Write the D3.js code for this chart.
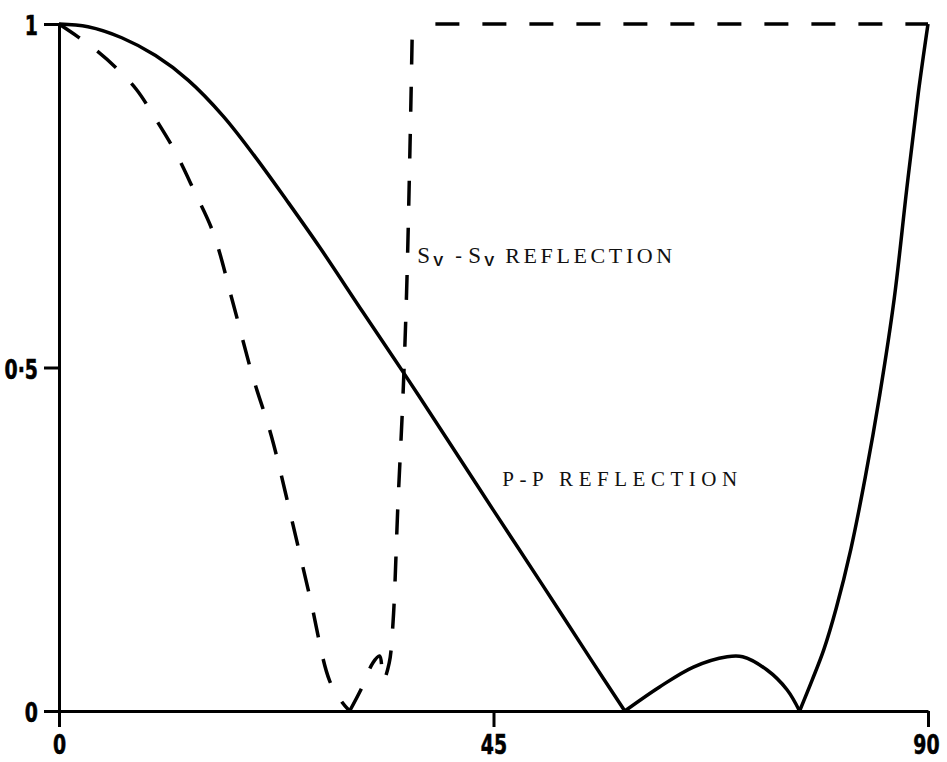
<!DOCTYPE html>
<html>
<head>
<meta charset="utf-8">
<script src="https://cdn.jsdelivr.net/npm/d3@7/dist/d3.min.js"></script>
<style>
  html, body { margin: 0; padding: 0; background: #fff; }
  svg { display: block; }
  .tick-label { font-family: "DejaVu Sans", "Liberation Sans", sans-serif; font-weight: bold; }
  .note { font-family: "Liberation Serif", "DejaVu Serif", serif; fill: #111; }
</style>
</head>
<body>
<svg id="chart" width="947" height="762"></svg>
<script>
// Incidence angle (degrees) vs. reflection amplitude.
const xTicks = [0, 45, 90];
const xTickLabels = ["0", "45", "90"];
const yTicks = [0, 0.5, 1];
const yTickLabels = ["0", "0·5", "1"];

// P-P reflection: three branches separated by the zeros near 58.6° and 76.7°
const ppBranch1 = [[0,1],[3,0.996],[6.5,0.98],[10,0.954],[13.4,0.918],[17,0.866],[20.3,0.807],
  [23.7,0.741],[27,0.675],[31.5,0.58],[35.8,0.49],[40,0.4],[45,0.292],[50,0.185],[55,0.077],[58.6,0]];
const ppBranch2 = [[58.6,0],[62.2,0.035],[65.7,0.064],[69.2,0.079],[70.8,0.079],[73.3,0.06],[75.4,0.031],[76.7,0]];
const ppBranch3 = [[76.7,0],[78,0.045],[79.2,0.089],[80.5,0.15],[82,0.235],[83.5,0.34],[85,0.46],
  [86.5,0.6],[87.8,0.76],[89,0.9],[90,1]];

// SV-SV reflection: falls to zero near 30°, small wiggle, then total reflection past ~36.6°
const svBranch1 = [[0,1],[2,0.981],[4,0.96],[6,0.935],[8,0.905],[10,0.862],[12,0.815],[14,0.757],
  [16,0.695],[18,0.595],[20,0.49],[22,0.4],[24,0.285],[26,0.165],[28,0.045],[29.3,0.013],[30.1,0]];
const svBranch2 = [[30.1,0],[31.4,0.035],[32.5,0.07],[33.2,0.08],[33.6,0.045],[34.2,0.07],[34.6,0.13],
  [35.1,0.3],[35.6,0.45],[36,0.61],[36.35,0.82],[36.6,1]];
const svTotal = [[36.6,1],[90,1]];

const svg = d3.select("#chart");
const x = d3.scaleLinear().domain([0, 90]).range([59, 928]);
const y = d3.scaleLinear().domain([0, 1]).range([711, 24]);

// Bold numerals are squeezed horizontally to a condensed look
const squeeze = 0.7;

// Axes
const xAxis = d3.axisBottom(x).tickValues(xTicks).tickFormat((d, i) => xTickLabels[i])
  .tickSize(16).tickSizeOuter(0).tickPadding(8);
const yAxis = d3.axisLeft(y).tickValues(yTicks).tickFormat((d, i) => yTickLabels[i])
  .tickSize(15).tickSizeOuter(0).tickPadding(6);

const gx = svg.append("g").attr("transform", `translate(0,${y(0)})`).call(xAxis);
const gy = svg.append("g").attr("transform", `translate(${x(0)},0)`).call(yAxis);

[gx, gy].forEach(g => {
  g.select(".domain").attr("stroke", "#000").attr("stroke-width", 3);
  g.selectAll(".tick line").attr("stroke", "#000").attr("stroke-width", 3);
  g.selectAll(".tick text").attr("class", "tick-label").attr("fill", "#000")
    .attr("stroke", "#000").attr("stroke-width", 0.6)
    .style("font-size", "27px");
});
gx.selectAll(".tick text").attr("transform", `scale(${squeeze},1)`);
gx.selectAll(".tick text").filter(d => d === 90).attr("x", -2 / squeeze);
gy.selectAll(".tick text").attr("dy", "0.4em")
  .attr("transform", `scale(${squeeze},1)`)
  .attr("x", -21 / squeeze);

// Curves
const smooth = d3.line().x(d => x(d[0])).y(d => y(d[1])).curve(d3.curveCatmullRom.alpha(0.5));
const straight = d3.line().x(d => x(d[0])).y(d => y(d[1]));

[ppBranch1, ppBranch2, ppBranch3].forEach(b => {
  svg.append("path").attr("d", smooth(b)).attr("fill", "none")
    .attr("stroke", "#000").attr("stroke-width", 3.5).attr("stroke-linejoin", "round");
});

[svBranch1, svBranch2].forEach(b => {
  svg.append("path").attr("d", smooth(b)).attr("fill", "none")
    .attr("stroke", "#000").attr("stroke-width", 3.5).attr("stroke-dasharray", "25,22");
});
svg.append("path").attr("d", straight(svTotal)).attr("fill", "none")
  .attr("stroke", "#000").attr("stroke-width", 3.5)
  .attr("stroke-dasharray", "24,23").attr("stroke-dashoffset", 47 - 23);

// Curve labels
const sv = svg.append("g").attr("class", "note");
const svX = x(37.1), svY = y(0.652);
sv.append("text").attr("x", svX).attr("y", svY).style("font-size", "23px").text("S");
sv.append("text").attr("x", svX + 16).attr("y", svY + 3)
  .style("font-family", "'Liberation Sans', Arial, sans-serif").style("font-weight", "bold")
  .style("font-size", "15px").text("V");
sv.append("text").attr("x", svX + 38).attr("y", svY - 1).style("font-size", "20px").text("-");
sv.append("text").attr("x", svX + 51).attr("y", svY).style("font-size", "23px").text("S");
sv.append("text").attr("x", svX + 67).attr("y", svY + 3)
  .style("font-family", "'Liberation Sans', Arial, sans-serif").style("font-weight", "bold")
  .style("font-size", "15px").text("V");
sv.append("text").attr("x", svX + 88).attr("y", svY).style("font-size", "22px")
  .attr("textLength", 167).attr("lengthAdjust", "spacing").text("REFLECTION");

svg.append("text").attr("class", "note").attr("x", x(45.9)).attr("y", y(0.328))
  .style("font-size", "21px").attr("textLength", 235).attr("lengthAdjust", "spacing")
  .text("P-P REFLECTION");
</script>
</body>
</html>
